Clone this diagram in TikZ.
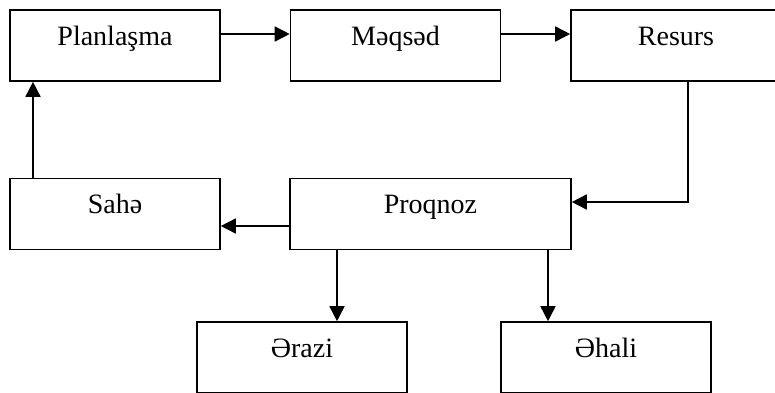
\documentclass[tikz,border=0pt]{standalone}
\usepackage{fontspec}
\setmainfont{Liberation Serif}
\usetikzlibrary{arrows.meta}
\tikzset{
  stage/.style = {draw, line width=1.6pt, inner sep=0pt, minimum width=210pt,
                  text height=35pt, text depth=36pt,
                  font=\fontsize{28}{34}\selectfont},
  flow/.style  = {-{Triangle[length=15pt,width=15pt]}, line width=1.6pt},
}

\begin{document}
\begin{tikzpicture}[x=1pt,y=-1pt]
  \useasboundingbox (0,0) rectangle (775,392);
  \clip (0,0) rectangle (775,392);
  \node[stage] (plan)    at (115, 45.5)                      {Planlaşma};
  \node[stage] (maqsad)  at (395.5, 45.5)                    {Məqsəd};
  \node[stage] (resurs)  at (676, 45.5)                      {Resurs};
  \node[stage] (saha)    at (115, 214)                       {Sahə};
  \node[stage, minimum width=281pt] (proqnoz) at (430.5, 214) {Proqnoz};
  \node[stage] (arazi)   at (302, 357.5)                     {Ərazi};
  \node[stage] (ahali)   at (606, 357.5)                     {Əhali};
  \draw[flow] ([yshift=11.5pt]plan.east) -- ([yshift=11.5pt]maqsad.west);
  \draw[flow] ([yshift=11.5pt]maqsad.east) -- ([yshift=11.5pt]resurs.west);
  \draw[flow] ([xshift=12pt]resurs.south) |- ([yshift=12pt]proqnoz.east);
  \draw[flow] ([yshift=-12pt]proqnoz.west) -- ([yshift=-12pt]saha.east);
  \draw[flow] ([xshift=-82pt]saha.north) -- ([xshift=-82pt]plan.south);
  \draw[flow] ([xshift=-93.5pt]proqnoz.south) -- ([xshift=35pt]arazi.north);
  \draw[flow] ([xshift=117.5pt]proqnoz.south) -- ([xshift=-58pt]ahali.north);
\end{tikzpicture}
\end{document}
